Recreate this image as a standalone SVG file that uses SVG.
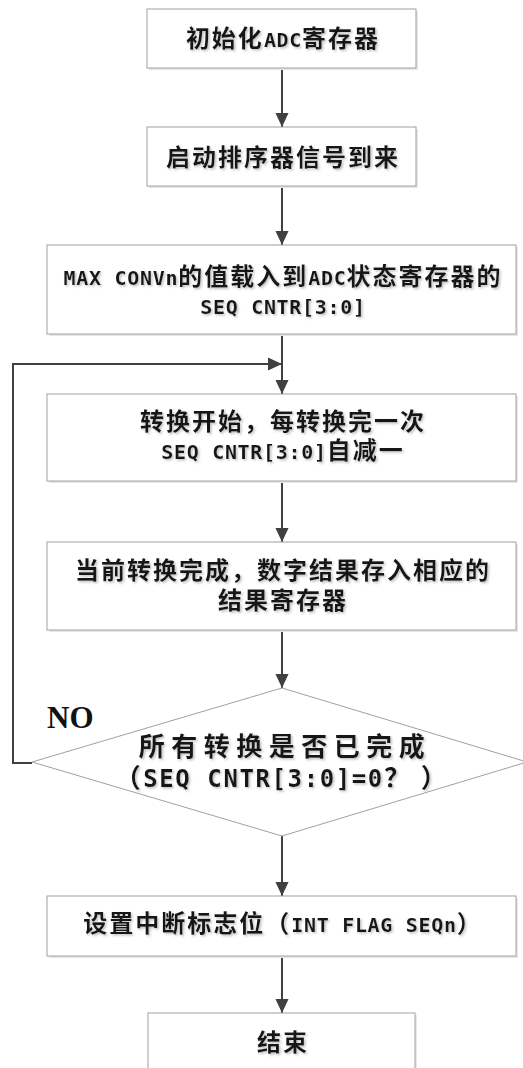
<svg xmlns="http://www.w3.org/2000/svg" width="523" height="1068" viewBox="0 0 523 1068">
<style>
.box{fill:#fff;stroke:#a0a0a0;stroke-width:1}
.sh{fill:#e6e6e6}
.t{font-family:"Noto Sans CJK SC",sans-serif;font-size:24px;font-weight:bold;letter-spacing:2px;text-anchor:middle;fill:#151515}
.m{font-family:"DejaVu Sans Mono","Noto Sans CJK SC",monospace;font-size:20px;letter-spacing:0.7px;font-weight:bold}
.d{font-family:"Noto Sans CJK SC",sans-serif;font-size:26px;font-weight:bold;letter-spacing:6.5px;text-anchor:middle;fill:#151515}
.dm{font-family:"DejaVu Sans Mono","Noto Sans CJK SC",monospace;font-size:24px;letter-spacing:1.6px;font-weight:bold}
.c{fill:none;stroke:#404040;stroke-width:2}
.no{font-family:"Liberation Serif",serif;font-size:31px;font-weight:bold;fill:#111}
</style>
<defs>
<marker id="ah" markerWidth="14" markerHeight="16" refX="15" refY="7" orient="auto" markerUnits="userSpaceOnUse" viewBox="0 0 15 14">
<path d="M0,0 L15,7 L0,14 Z" fill="#404040"/>
</marker>
<filter id="ts" x="-5%" y="-20%" width="110%" height="140%">
<feDropShadow dx="1.5" dy="1.5" stdDeviation="0.8" flood-color="#b0b0b0" flood-opacity="0.8"/>
</filter>
</defs>
<g id="connectors">
<line class="c" x1="282" y1="68" x2="282" y2="127" marker-end="url(#ah)"/>
<line class="c" x1="282" y1="186" x2="282" y2="245" marker-end="url(#ah)"/>
<line class="c" x1="282" y1="334" x2="282" y2="394" marker-end="url(#ah)"/>
<polyline class="c" points="32,763 13,763 13,364 282,364" marker-end="url(#ah)"/>
<line class="c" x1="282" y1="481" x2="282" y2="542" marker-end="url(#ah)"/>
<line class="c" x1="282" y1="630" x2="282" y2="688" marker-end="url(#ah)"/>
<line class="c" x1="282" y1="836" x2="282" y2="896" marker-end="url(#ah)"/>
<line class="c" x1="282" y1="956" x2="282" y2="1013" marker-end="url(#ah)"/>
<text class="no" x="47" y="728">NO</text>
</g>
<g id="n1">
<rect class="sh" x="149" y="11" width="269" height="59"/>
<rect class="box" x="147" y="9" width="269" height="59"/>
<text class="t" x="283" y="47" filter="url(#ts)">初始化<tspan class="m">ADC</tspan>寄存器</text>
</g>
<g id="n2">
<rect class="sh" x="149" y="129" width="269" height="59"/>
<rect class="box" x="147" y="127" width="269" height="59"/>
<text class="t" x="283" y="166" filter="url(#ts)">启动排序器信号到来</text>
</g>
<g id="n3">
<rect class="sh" x="49" y="247" width="469" height="89"/>
<rect class="box" x="47" y="245" width="469" height="89"/>
<text class="t" filter="url(#ts)"><tspan x="283" y="285"><tspan class="m">MAX CONVn</tspan>的值载入到<tspan class="m">ADC</tspan>状态寄存器的</tspan><tspan x="283" y="314"><tspan class="m">SEQ CNTR[3:0]</tspan></tspan></text>
</g>
<g id="n4">
<rect class="sh" x="49" y="396" width="469" height="87"/>
<rect class="box" x="47" y="394" width="469" height="87"/>
<text class="t" filter="url(#ts)"><tspan x="283" y="430">转换开始，每转换完一次</tspan><tspan x="283" y="459"><tspan class="m">SEQ CNTR[3:0]</tspan>自减一</tspan></text>
</g>
<g id="n5">
<rect class="sh" x="49" y="544" width="469" height="88"/>
<rect class="box" x="47" y="542" width="469" height="88"/>
<text class="t" filter="url(#ts)"><tspan x="283" y="579">当前转换完成，数字结果存入相应的</tspan><tspan x="283" y="609">结果寄存器</tspan></text>
</g>
<g id="n6">
<polygon points="282,688 527,762 282,836 32,762" fill="#fff" stroke="#a0a0a0" stroke-width="1"/>
<text class="d" filter="url(#ts)"><tspan x="285" y="756">所有转换是否已完成</tspan><tspan x="282" y="787" style="letter-spacing:2.5px">（<tspan class="dm">SEQ CNTR[3:0]=0</tspan>？ ）</tspan></text>
</g>
<g id="n7">
<rect class="sh" x="49" y="898" width="469" height="60"/>
<rect class="box" x="47" y="896" width="469" height="60"/>
<text class="t" x="283" y="932" filter="url(#ts)">设置中断标志位（<tspan class="m">INT FLAG SEQn</tspan>）</text>
</g>
<g id="n8">
<rect class="sh" x="150" y="1015" width="267" height="70"/>
<rect class="box" x="148" y="1013" width="267" height="70"/>
<text class="t" x="283" y="1051" filter="url(#ts)">结束</text>
</g>
</svg>
